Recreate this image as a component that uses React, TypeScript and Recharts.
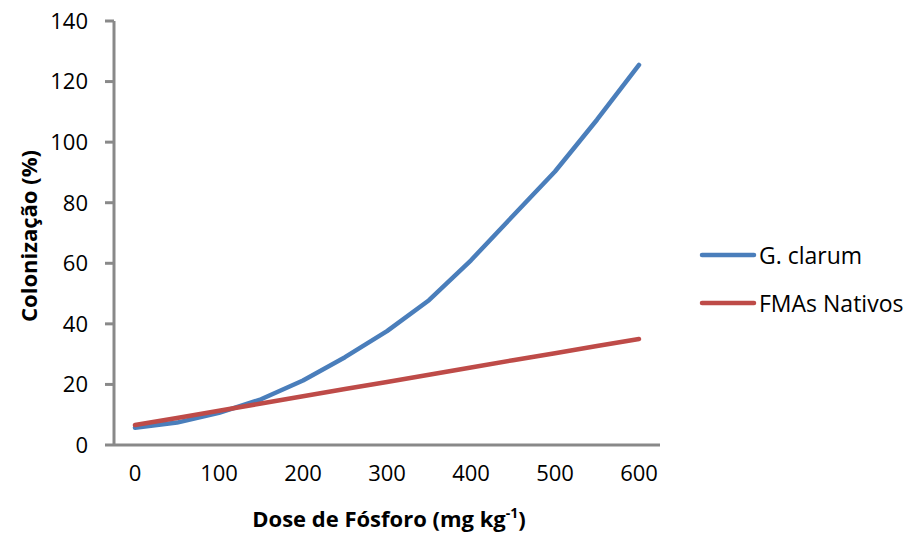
import { LineChart, Line, XAxis, YAxis, Label } from "recharts";

// phosphorus dose (mg/kg) and root colonization (%)
const doses = [0, 50, 100, 150, 200, 250, 300, 350, 400, 450, 500, 550, 600];
const gClarum = [5.7, 7.4, 10.6, 15.1, 21.3, 29.0, 37.6, 47.8, 61.0, 75.7, 90.3, 107.4, 125.5];
const fmasNativos = [6.6, 8.9, 11.3, 13.7, 16.1, 18.5, 20.8, 23.2, 25.6, 28.0, 30.3, 32.7, 35.0];

const xTicks = [0, 100, 200, 300, 400, 500, 600];
const yTicks = [0, 20, 40, 60, 80, 100, 120, 140];

const SERIES = [
  { key: "gClarum", name: "G. clarum", color: "#4A7EBB" },
  { key: "fmasNativos", name: "FMAs Nativos", color: "#BE4B48" },
];

const data = doses.map((dose, i) => ({
  dose,
  gClarum: gClarum[i],
  fmasNativos: fmasNativos[i],
}));

const FONT = "'Open Sans', Lato, sans-serif";
const AXIS = "#898989";

function LegendBox() {
  return (
    <svg width={214} height={90} style={{ position: "absolute", left: 698, top: 240 }}>
      {SERIES.map((s, i) => (
        <g key={s.key} transform={`translate(0, ${15 + i * 48})`}>
          <line x1={4} y1={0} x2={56} y2={0} stroke={s.color} strokeWidth={4.5} strokeLinecap="round" />
          <text x={61} y={0} dominantBaseline="central" fontSize={23} fontFamily={FONT} fill="#000">
            {s.name}
          </text>
        </g>
      ))}
    </svg>
  );
}

export default function App() {
  return (
    <div style={{ position: "absolute", left: 0, top: 0, width: 912, height: 536, background: "#fff" }}>
      <LineChart
        width={912}
        height={536}
        data={data}
        margin={{ top: 21, right: 252, bottom: 31, left: 0 }}
      >
        <XAxis
          dataKey="dose"
          type="number"
          domain={[-25, 625]}
          ticks={xTicks}
          allowDataOverflow
          height={60}
          axisLine={{ stroke: AXIS, strokeWidth: 3 }}
          tickLine={false}
          tickSize={6}
          tickMargin={14}
          tick={{ fill: "#000", fontSize: 22, fontFamily: FONT }}
        >
          <Label
            content={() => (
              <text x={389} y={527} textAnchor="middle" fontSize={22} fontWeight="bold" fontFamily={FONT} fill="#000">
                <tspan>Dose de Fósforo (mg kg</tspan>
                <tspan dy={-9} fontSize={14}>-1</tspan>
                <tspan dy={9}>)</tspan>
              </text>
            )}
          />
        </XAxis>
        <YAxis
          type="number"
          domain={[0, 140]}
          ticks={yTicks}
          width={114}
          axisLine={{ stroke: AXIS, strokeWidth: 3 }}
          tickLine={{ stroke: AXIS, strokeWidth: 3 }}
          tickSize={9}
          tickMargin={17}
          tick={{ fill: "#000", fontSize: 22, fontFamily: FONT }}
        >
          <Label
            content={() => (
              <text
                x={28}
                y={236}
                transform="rotate(-90, 28, 236)"
                textAnchor="middle"
                dominantBaseline="central"
                fontSize={22}
                fontWeight="bold"
                fontFamily={FONT}
                fill="#000"
              >
                Colonização (%)
              </text>
            )}
          />
        </YAxis>
        {SERIES.map((s) => (
          <Line
            key={s.key}
            type="linear"
            dataKey={s.key}
            name={s.name}
            stroke={s.color}
            strokeWidth={4.5}
            strokeLinecap="round"
            strokeLinejoin="round"
            dot={false}
            activeDot={false}
            isAnimationActive={false}
          />
        ))}
      </LineChart>
      <LegendBox />
    </div>
  );
}
